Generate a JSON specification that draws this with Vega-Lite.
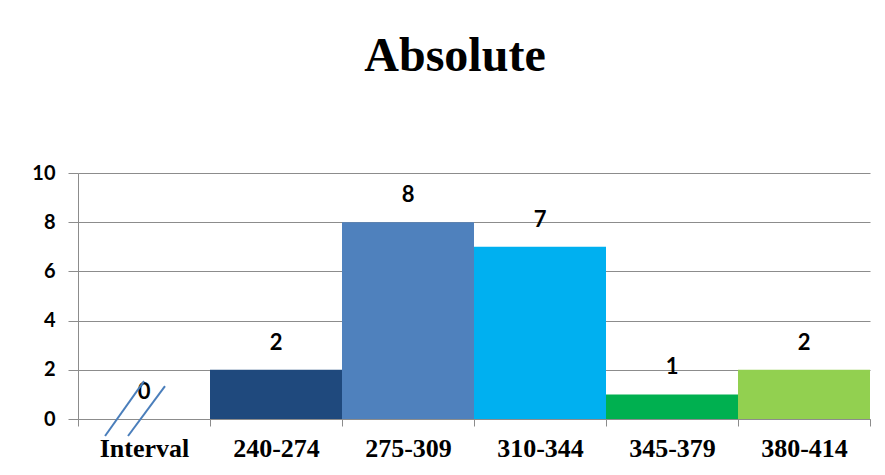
{
  "$schema": "https://vega.github.io/schema/vega-lite/v6.json",
  "width": 792,
  "height": 246,
  "autosize": {"type": "none"},
  "padding": {"left": 78, "top": 173, "right": 15, "bottom": 56},
  "background": "white",
  "title": {
    "text": "Absolute",
    "font": "Liberation Serif",
    "fontSize": 48,
    "fontWeight": "bold",
    "color": "black",
    "anchor": "middle",
    "dx": -19,
    "offset": 82
  },
  "config": {"view": {"stroke": null}},
  "datasets": {
    "bars": [
      {"interval": "Interval", "count": 0, "color": "#FFFFFF"},
      {"interval": "240-274", "count": 2, "color": "#1F497D"},
      {"interval": "275-309", "count": 8, "color": "#4F81BD"},
      {"interval": "310-344", "count": 7, "color": "#00B0F0"},
      {"interval": "345-379", "count": 1, "color": "#00B050"},
      {"interval": "380-414", "count": 2, "color": "#92D050"}
    ],
    "breaks": [
      {"line": "a", "x": 0.205, "y": -0.69},
      {"line": "a", "x": 0.5, "y": 1.54},
      {"line": "b", "x": 0.379, "y": -0.69},
      {"line": "b", "x": 0.659, "y": 1.34}
    ]
  },
  "layer": [
    {
      "data": {"name": "bars"},
      "encoding": {
        "x": {
          "field": "interval",
          "type": "nominal",
          "sort": null,
          "scale": {"paddingInner": 0, "paddingOuter": 0},
          "axis": {
            "title": null,
            "labelAngle": 0,
            "labelFont": "Liberation Serif",
            "labelFontSize": 26,
            "labelFontWeight": "bold",
            "labelColor": "black",
            "tickBand": "extent",
            "tickSize": 7,
            "tickColor": "#8c8c8c",
            "domainColor": "#8c8c8c",
            "labelPadding": 9
          }
        },
        "y": {
          "field": "count",
          "type": "quantitative",
          "scale": {"domain": [0, 10], "nice": false},
          "axis": {
            "title": null,
            "values": [0, 2, 4, 6, 8, 10],
            "labelFont": "Lato",
            "labelFontSize": 20,
            "labelFontWeight": "bold",
            "labelColor": "black",
            "tickSize": 10,
            "tickColor": "#8c8c8c",
            "domainColor": "#8c8c8c",
            "gridColor": "#8c8c8c",
            "labelPadding": 13
          }
        }
      },
      "layer": [
        {
          "mark": {"type": "bar"},
          "encoding": {"color": {"field": "color", "type": "nominal", "scale": null}}
        },
        {
          "mark": {"type": "text", "font": "Lato", "fontSize": 22, "fontWeight": "bold", "color": "black", "baseline": "middle", "dy": -27},
          "encoding": {"text": {"field": "count", "type": "quantitative"}}
        }
      ]
    },
    {
      "data": {"name": "breaks"},
      "mark": {"type": "line", "clip": false, "color": "#4A7EBB", "strokeWidth": 2},
      "encoding": {
        "x": {"field": "x", "type": "quantitative", "scale": {"domain": [0, 6], "nice": false, "zero": false}, "axis": null},
        "y": {"field": "y", "type": "quantitative", "scale": {"domain": [0, 10], "nice": false}, "axis": null},
        "detail": {"field": "line", "type": "nominal"}
      }
    }
  ],
  "resolve": {"scale": {"x": "independent", "y": "independent"}}
}
